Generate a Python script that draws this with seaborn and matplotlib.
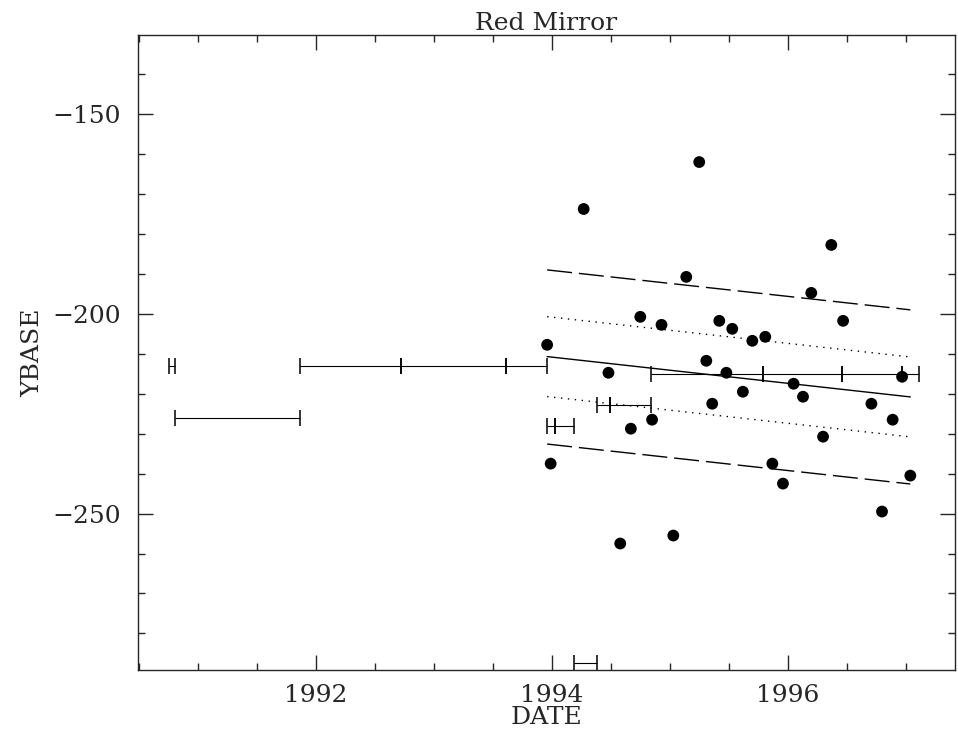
import numpy as np
import pandas as pd
import seaborn as sns
import matplotlib.pyplot as plt
from matplotlib.ticker import MultipleLocator

# individual measurements
date = [1993.96, 1993.99, 1994.27, 1994.48, 1994.58, 1994.67, 1994.75, 1994.85,
        1994.93, 1995.03, 1995.14, 1995.25, 1995.31, 1995.36, 1995.42, 1995.48,
        1995.53, 1995.62, 1995.70, 1995.81, 1995.87, 1995.96, 1996.05, 1996.13,
        1996.20, 1996.30, 1996.37, 1996.47, 1996.71, 1996.80, 1996.89, 1996.97,
        1997.04]
ybase = [-207.75, -237.5, -173.75, -214.75, -257.5, -228.75, -200.75, -226.5,
         -202.75, -255.5, -190.75, -162.0, -211.75, -222.5, -201.75, -214.75,
         -203.75, -219.5, -206.75, -205.75, -237.5, -242.5, -217.5, -220.75,
         -194.75, -230.75, -182.75, -201.75, -222.5, -249.5, -226.5, -215.75,
         -240.5]

# piecewise constant periods
seg_start = [1990.75, 1990.80, 1991.86, 1992.72, 1993.61, 1993.96, 1994.03,
             1994.19, 1994.38, 1994.49, 1994.84, 1995.79, 1996.46, 1996.97]
seg_end = [1990.80, 1991.86, 1992.72, 1993.61, 1993.96, 1994.03, 1994.19,
           1994.38, 1994.49, 1994.84, 1995.79, 1996.46, 1996.97, 1997.11]
seg_level = [-213.0, -226.0, -213.0, -213.0, -213.0, -228.0, -228.0,
             -287.5, -222.75, -222.75, -215.0, -215.0, -215.0, -215.0]

# linear fit and its bands
fit_x = [1993.96, 1997.04]
fit_mid = [-210.7, -220.8]
fit_1s_hi = [-200.7, -210.8]
fit_1s_lo = [-220.7, -230.8]
fit_2s_hi = [-189.0, -199.0]
fit_2s_lo = [-232.6, -242.6]

sns.set_style('ticks')
plt.rcParams['font.family'] = ['DejaVu Serif']

fig = plt.figure(figsize=(9.58, 7.34), dpi=100)
ax = fig.add_axes([0.144, 0.087, 0.853, 0.865])

# periods
seg = pd.DataFrame({'start': seg_start, 'end': seg_end, 'level': seg_level})
seg['mid'] = (seg['start'] + seg['end']) / 2
seg['half'] = (seg['end'] - seg['start']) / 2
ax.errorbar(seg['mid'], seg['level'], xerr=seg['half'], fmt='none',
            ecolor='black', elinewidth=0.8, capsize=6, capthick=1.1)

# fit lines
sns.lineplot(x=fit_x, y=fit_mid, color='black', linewidth=1, ax=ax)
for band in [fit_1s_hi, fit_1s_lo]:
    sns.lineplot(x=fit_x, y=band, color='black', linewidth=1,
                 linestyle=(0, (1, 4)), ax=ax)
for band in [fit_2s_hi, fit_2s_lo]:
    sns.lineplot(x=fit_x, y=band, color='black', linewidth=1,
                 linestyle=(0, (18, 5)), ax=ax)

# points
sns.scatterplot(x=date, y=ybase, s=72, color='black', edgecolor='none',
                ax=ax, zorder=5)

ax.set_xlim(1990.49, 1997.42)
ax.set_ylim(-289.2, -130.25)
ax.xaxis.set_major_locator(MultipleLocator(2))
ax.xaxis.set_minor_locator(MultipleLocator(0.5))
ax.yaxis.set_major_locator(MultipleLocator(50))
ax.yaxis.set_minor_locator(MultipleLocator(10))
ax.tick_params(which='both', direction='in', top=True, right=True,
               labelsize=18, width=1)
ax.tick_params(which='major', length=11)
ax.tick_params(axis='y', which='major', pad=12)
ax.tick_params(axis='x', which='major', pad=10)
ax.tick_params(which='minor', length=5)
for s in ax.spines.values():
    s.set_linewidth(1)

ax.set_title('Red Mirror', fontsize=18, pad=3)
ax.set_xlabel('DATE', fontsize=18, labelpad=-1)
ax.set_ylabel('YBASE', fontsize=18, labelpad=6)

plt.savefig('out.png', dpi=100)
